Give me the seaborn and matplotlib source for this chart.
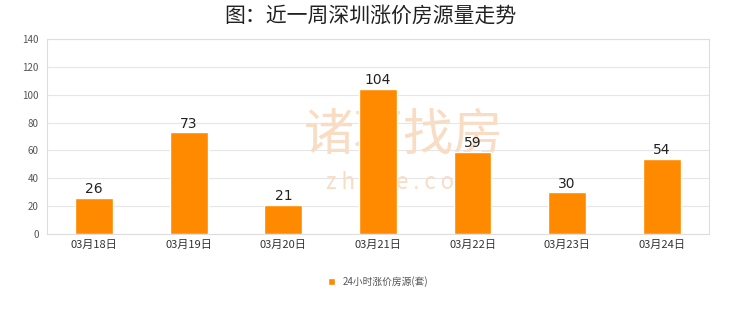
import matplotlib
matplotlib.use("Agg")
import matplotlib.pyplot as plt
import seaborn as sns
import pandas as pd

categories = ["03月18日", "03月19日", "03月20日", "03月21日", "03月22日", "03月23日", "03月24日"]
values = [26, 73, 21, 104, 59, 30, 54]
y_ticks = [0, 20, 40, 60, 80, 100, 120, 140]
series_name = "24小时涨价房源(套)"
title = "图：近一周深圳涨价房源量走势"

sns.set_theme(style="white")
plt.rcParams['font.family'] = ['Noto Sans CJK SC', 'DejaVu Sans']

df = pd.DataFrame({"date": categories, "count": values, "series": series_name})

fig = plt.figure(figsize=(7.4, 3.12), dpi=100)
ax = fig.add_axes([0.0635, 0.25, 0.8945, 0.625])

sns.barplot(data=df, x="date", y="count", hue="series", palette=["#FF8A00"],
            width=0.4, ax=ax, saturation=1, zorder=3)

# watermark (behind bars)
ax.text(0.545, 0.565, "诸葛找房", fontsize=36, color="#f8dcc4", ha="center", va="center",
        transform=fig.transFigure, zorder=1)
ax.text(0.545, 0.415, "z h u g e . c o m", fontsize=16, color="#f8dcc4", ha="center", va="center",
        transform=fig.transFigure, zorder=1)

for i, v in enumerate(values):
    ax.text(i, v + 1.2, str(v), ha="center", va="bottom", fontsize=10, color="#222222",
            family="DejaVu Sans", zorder=4)

ax.set_xlim(-0.5, 6.5)
ax.set_ylim(0, 140)
ax.set_yticks(y_ticks)
ax.set_yticklabels([str(t) for t in y_ticks], fontsize=7, color="#555555")
ax.tick_params(axis="x", labelsize=8, colors="#333333", length=0, pad=4)
ax.tick_params(axis="y", length=0, pad=6)
ax.yaxis.grid(True, color="#e6e6e6", linewidth=0.8, zorder=0)
ax.set_axisbelow(True)
for s in ax.spines.values():
    s.set_color("#dddddd")
    s.set_linewidth(0.8)
ax.set_xlabel("")
ax.set_ylabel("")

leg = ax.legend(loc="upper center", bbox_to_anchor=(0.5, -0.17), frameon=False,
                fontsize=7, handlelength=0.7, handleheight=0.7, handletextpad=0.8)
for t in leg.get_texts():
    t.set_color("#555555")

fig.suptitle(title, fontsize=15, fontweight="medium", color="#222222", y=0.985)

fig.savefig("out.png", dpi=100)
